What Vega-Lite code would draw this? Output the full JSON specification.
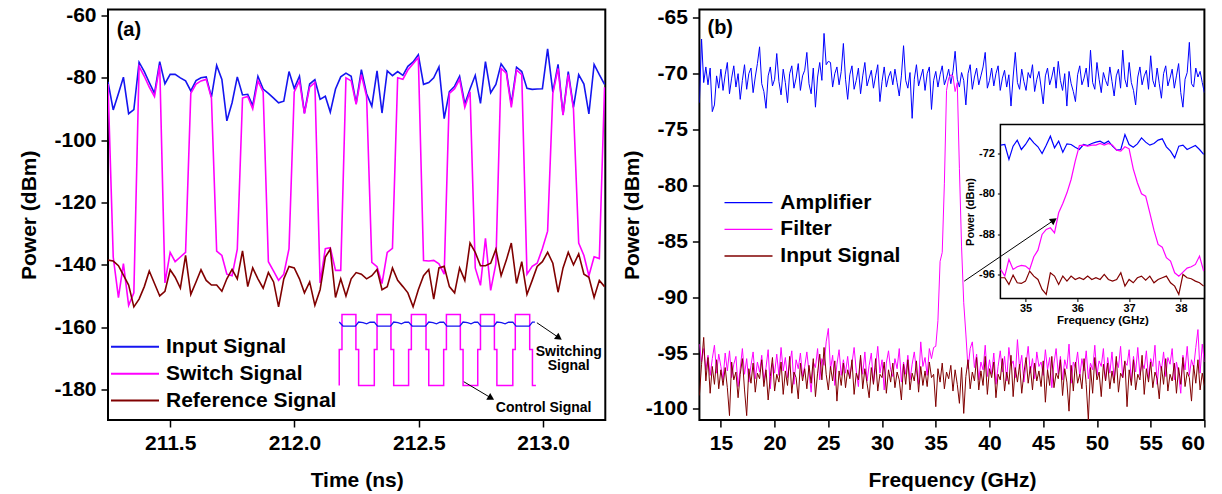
{
"$schema":"https://vega.github.io/schema/vega-lite/v6.json",
"background":"white",
"padding":{"left":17,"top":2.5,"right":5,"bottom":5},
"bounds":"flush",
"spacing":93.4,
"config":{
 "font":"Liberation Sans",
 "view":{"stroke":"black","strokeWidth":2},
 "axis":{"grid":false,"domain":false,"labelFont":"Liberation Sans","labelFontWeight":"bold","labelFontSize":21,"labelColor":"black","titleFont":"Liberation Sans","titleFontWeight":"bold","titleFontSize":21,"titleColor":"black","tickColor":"black","tickWidth":1.5,"tickSize":7,"labelPadding":5},
 "legend":{"labelFont":"Liberation Sans","labelFontWeight":"bold","labelFontSize":21,"labelColor":"black","padding":0,"labelLimit":400}
},
"resolve":{"scale":{"color":"independent"},"legend":{"color":"independent"}},
"hconcat":[
{
 "width":497.3,"height":410.5,
 "encoding":{
  "x":{"field":"t","type":"quantitative","title":"Time (ns)","scale":{"domain":[211.25,213.25],"nice":false,"zero":false},"axis":{"orient":"bottom","values":[211.5,212,212.5,213],"format":".1f","titlePadding":16}},
  "y":{"field":"y","type":"quantitative","title":"Power (dBm)","scale":{"domain":[-189.8,-58.08],"nice":false,"zero":false},"axis":{"orient":"left","values":[-180,-160,-140,-120,-100,-80,-60],"labelExpr":"replace(datum.label,'−','-')","titlePadding":14}}
 },
 "layer":[
  {
   "data":{"values":[
{"t":211.250,"in":-81.3,"sw":-82,"rf":-138.5},
{"t":211.271,"in":-90.3,"sw":-137.5,"rf":-138.8},
{"t":211.292,"in":-85,"sw":-150.5,"rf":-140.3},
{"t":211.312,"in":-79.8,"sw":-139.6,"rf":-143.3},
{"t":211.333,"in":-91.5,"sw":-153,"rf":-146.5},
{"t":211.354,"in":-90.2,"sw":-149,"rf":-153.5},
{"t":211.375,"in":-75,"sw":-76.3,"rf":-151},
{"t":211.396,"in":-78,"sw":-79.5,"rf":-147},
{"t":211.416,"in":-81.5,"sw":-83,"rf":-142},
{"t":211.437,"in":-85,"sw":-86,"rf":-146},
{"t":211.458,"in":-74.8,"sw":-76,"rf":-150},
{"t":211.479,"in":-81.9,"sw":-145.8,"rf":-148.5},
{"t":211.500,"in":-78.9,"sw":-136,"rf":-141.6},
{"t":211.520,"in":-78.9,"sw":-139,"rf":-144},
{"t":211.541,"in":-80,"sw":-137.5,"rf":-147.5},
{"t":211.562,"in":-81,"sw":-136,"rf":-137},
{"t":211.583,"in":-84.2,"sw":-85,"rf":-149.5},
{"t":211.604,"in":-80.9,"sw":-82,"rf":-145.5},
{"t":211.624,"in":-80,"sw":-81,"rf":-141.6},
{"t":211.645,"in":-79.7,"sw":-80.5,"rf":-145},
{"t":211.666,"in":-86.2,"sw":-86.5,"rf":-146.5},
{"t":211.687,"in":-76,"sw":-135.6,"rf":-146.5},
{"t":211.708,"in":-80.5,"sw":-137,"rf":-148.5},
{"t":211.728,"in":-93.8,"sw":-143,"rf":-144.5},
{"t":211.749,"in":-88,"sw":-143.5,"rf":-141.5},
{"t":211.770,"in":-79.7,"sw":-135,"rf":-144.5},
{"t":211.791,"in":-85.5,"sw":-86.5,"rf":-135.5},
{"t":211.812,"in":-85.3,"sw":-86,"rf":-147},
{"t":211.832,"in":-88.9,"sw":-90,"rf":-141},
{"t":211.853,"in":-79.5,"sw":-81,"rf":-144.5},
{"t":211.874,"in":-83.6,"sw":-84.5,"rf":-147.5},
{"t":211.895,"in":-85,"sw":-139,"rf":-142.5},
{"t":211.916,"in":-86.5,"sw":-142,"rf":-145.5},
{"t":211.936,"in":-88,"sw":-145,"rf":-153.5},
{"t":211.957,"in":-87.5,"sw":-143,"rf":-144.5},
{"t":211.978,"in":-78,"sw":-134.8,"rf":-140.5},
{"t":211.999,"in":-83.4,"sw":-84.5,"rf":-141},
{"t":212.020,"in":-79.5,"sw":-81,"rf":-144.5},
{"t":212.040,"in":-91.3,"sw":-91.5,"rf":-149},
{"t":212.061,"in":-82,"sw":-83,"rf":-145.5},
{"t":212.082,"in":-80.6,"sw":-81.5,"rf":-153},
{"t":212.103,"in":-86.9,"sw":-145.8,"rf":-148},
{"t":212.124,"in":-85.9,"sw":-134.8,"rf":-137.5},
{"t":212.144,"in":-91,"sw":-134.5,"rf":-135},
{"t":212.165,"in":-83.6,"sw":-141.8,"rf":-150.5},
{"t":212.186,"in":-79.7,"sw":-141.8,"rf":-144.5},
{"t":212.207,"in":-78.5,"sw":-80,"rf":-150},
{"t":212.228,"in":-79.5,"sw":-81,"rf":-144.5},
{"t":212.248,"in":-88.2,"sw":-88.5,"rf":-142.5},
{"t":212.269,"in":-77.4,"sw":-79,"rf":-143},
{"t":212.290,"in":-85.1,"sw":-86,"rf":-144.5},
{"t":212.311,"in":-89.1,"sw":-139.2,"rf":-143.5},
{"t":212.332,"in":-77.8,"sw":-140.6,"rf":-141.5},
{"t":212.352,"in":-91.3,"sw":-146,"rf":-148},
{"t":212.373,"in":-77.8,"sw":-136,"rf":-147},
{"t":212.394,"in":-79.3,"sw":-134.7,"rf":-141},
{"t":212.415,"in":-78,"sw":-80,"rf":-145},
{"t":212.436,"in":-79.2,"sw":-80.5,"rf":-147},
{"t":212.456,"in":-76.3,"sw":-77.5,"rf":-149},
{"t":212.477,"in":-74.9,"sw":-75.5,"rf":-153.5},
{"t":212.498,"in":-72.6,"sw":-73.5,"rf":-148},
{"t":212.519,"in":-82.1,"sw":-138.6,"rf":-143.5},
{"t":212.540,"in":-81.5,"sw":-138.8,"rf":-141.5},
{"t":212.560,"in":-80,"sw":-138.6,"rf":-151},
{"t":212.581,"in":-76.5,"sw":-139.7,"rf":-141},
{"t":212.602,"in":-93.1,"sw":-143,"rf":-140.5},
{"t":212.623,"in":-84.4,"sw":-85,"rf":-147},
{"t":212.644,"in":-82.7,"sw":-83.5,"rf":-149},
{"t":212.664,"in":-79.5,"sw":-80.5,"rf":-141},
{"t":212.685,"in":-88.4,"sw":-89.5,"rf":-145},
{"t":212.706,"in":-83.6,"sw":-84.5,"rf":-133},
{"t":212.727,"in":-79.2,"sw":-141,"rf":-136},
{"t":212.748,"in":-88.2,"sw":-146.6,"rf":-140.3},
{"t":212.768,"in":-74.8,"sw":-131.5,"rf":-140.3},
{"t":212.789,"in":-84.8,"sw":-148.2,"rf":-139.5},
{"t":212.810,"in":-82.1,"sw":-139.6,"rf":-135},
{"t":212.831,"in":-75.5,"sw":-77,"rf":-143.5},
{"t":212.852,"in":-77.9,"sw":-78.5,"rf":-138.5},
{"t":212.872,"in":-88.4,"sw":-89.5,"rf":-133},
{"t":212.893,"in":-76.6,"sw":-77.5,"rf":-146},
{"t":212.914,"in":-78,"sw":-79,"rf":-139},
{"t":212.935,"in":-83.4,"sw":-143,"rf":-149.5},
{"t":212.956,"in":-83.7,"sw":-140.5,"rf":-145},
{"t":212.976,"in":-83.6,"sw":-139.5,"rf":-140.5},
{"t":212.997,"in":-83.5,"sw":-134.8,"rf":-139},
{"t":213.018,"in":-70.7,"sw":-129.2,"rf":-136},
{"t":213.039,"in":-84.6,"sw":-85,"rf":-139.5},
{"t":213.060,"in":-75.7,"sw":-77,"rf":-148.8},
{"t":213.080,"in":-91.8,"sw":-92,"rf":-141},
{"t":213.101,"in":-78,"sw":-79,"rf":-136},
{"t":213.122,"in":-89.5,"sw":-90,"rf":-140},
{"t":213.143,"in":-79,"sw":-133,"rf":-136.5},
{"t":213.164,"in":-82,"sw":-137,"rf":-143},
{"t":213.184,"in":-91.6,"sw":-143.5,"rf":-144},
{"t":213.205,"in":-75.7,"sw":-137.4,"rf":-150.5},
{"t":213.226,"in":-79,"sw":-138,"rf":-145},
{"t":213.247,"in":-82.1,"sw":-83,"rf":-147}
   ]},
   "transform":[{"fold":["in","sw","rf"],"as":["s","y"]}],
   "mark":{"type":"line","strokeWidth":1.6,"clip":true},
   "encoding":{
    "color":{"field":"s","type":"nominal","scale":{"domain":["in","sw","rf"],"range":["#1515f0","#ff00ff","#800000"]},
     "legend":{"orient":"none","legendX":16.5,"legendY":326.8,"title":null,"symbolType":"M-4,0H4","symbolSize":144,"symbolStrokeWidth":2,"labelOffset":20.5,"rowPadding":4.9,"labelExpr":"datum.label == 'in' ? 'Input Signal' : datum.label == 'sw' ? 'Switch Signal' : 'Reference Signal'"}}
   }
  },
  {
   "data":{"values":[
{"i":0,"t":212.180,"y":-178.71},{"i":1,"t":212.180,"y":-167.16},{"i":2,"t":212.191,"y":-167.16},{"i":3,"t":212.191,"y":-155.93},
{"i":4,"t":212.247,"y":-155.93},{"i":5,"t":212.247,"y":-167.16},{"i":6,"t":212.258,"y":-167.16},{"i":7,"t":212.258,"y":-178.71},
{"i":8,"t":212.321,"y":-178.71},{"i":9,"t":212.321,"y":-167.16},{"i":10,"t":212.332,"y":-167.16},{"i":11,"t":212.332,"y":-155.93},
{"i":12,"t":212.388,"y":-155.93},{"i":13,"t":212.388,"y":-167.16},{"i":14,"t":212.399,"y":-167.16},{"i":15,"t":212.399,"y":-178.71},
{"i":16,"t":212.459,"y":-178.71},{"i":17,"t":212.459,"y":-167.16},{"i":18,"t":212.470,"y":-167.16},{"i":19,"t":212.470,"y":-155.93},
{"i":20,"t":212.529,"y":-155.93},{"i":21,"t":212.529,"y":-167.16},{"i":22,"t":212.540,"y":-167.16},{"i":23,"t":212.540,"y":-178.71},
{"i":24,"t":212.600,"y":-178.71},{"i":25,"t":212.600,"y":-167.16},{"i":26,"t":212.611,"y":-167.16},{"i":27,"t":212.611,"y":-155.93},
{"i":28,"t":212.667,"y":-155.93},{"i":29,"t":212.667,"y":-167.16},{"i":30,"t":212.678,"y":-167.16},{"i":31,"t":212.678,"y":-178.71},
{"i":32,"t":212.737,"y":-178.71},{"i":33,"t":212.737,"y":-167.16},{"i":34,"t":212.748,"y":-167.16},{"i":35,"t":212.748,"y":-155.93},
{"i":36,"t":212.804,"y":-155.93},{"i":37,"t":212.804,"y":-167.16},{"i":38,"t":212.814,"y":-167.16},{"i":39,"t":212.814,"y":-178.71},
{"i":40,"t":212.878,"y":-178.71},{"i":41,"t":212.878,"y":-167.16},{"i":42,"t":212.888,"y":-167.16},{"i":43,"t":212.888,"y":-155.93},
{"i":44,"t":212.946,"y":-155.93},{"i":45,"t":212.946,"y":-167.16},{"i":46,"t":212.957,"y":-167.16},{"i":47,"t":212.957,"y":-178.71},
{"i":48,"t":212.971,"y":-178.71}
   ]},
   "mark":{"type":"line","color":"#ff00ff","strokeWidth":1.5},
   "encoding":{"order":{"field":"i","type":"quantitative"}}
  },
  {
   "data":{"values":[
{"t":212.180,"y":-158.37},{"t":212.195,"y":-159.65},{"t":212.245,"y":-159.65},{"t":212.258,"y":-158.37},{"t":212.276,"y":-158.53},{"t":212.290,"y":-158.92},{"t":212.304,"y":-158.43},{"t":212.321,"y":-158.37},
{"t":212.334,"y":-159.65},{"t":212.386,"y":-159.65},{"t":212.399,"y":-158.37},{"t":212.416,"y":-158.53},{"t":212.430,"y":-158.92},{"t":212.444,"y":-158.43},{"t":212.459,"y":-158.37},
{"t":212.473,"y":-159.65},{"t":212.527,"y":-159.65},{"t":212.540,"y":-158.37},{"t":212.557,"y":-158.53},{"t":212.571,"y":-158.92},{"t":212.585,"y":-158.43},{"t":212.600,"y":-158.37},
{"t":212.613,"y":-159.65},{"t":212.665,"y":-159.65},{"t":212.678,"y":-158.37},{"t":212.696,"y":-158.53},{"t":212.710,"y":-158.92},{"t":212.724,"y":-158.43},{"t":212.737,"y":-158.37},
{"t":212.750,"y":-159.65},{"t":212.802,"y":-159.65},{"t":212.814,"y":-158.37},{"t":212.833,"y":-158.53},{"t":212.847,"y":-158.92},{"t":212.861,"y":-158.43},{"t":212.878,"y":-158.37},
{"t":212.891,"y":-159.65},{"t":212.944,"y":-159.65},{"t":212.957,"y":-158.37},{"t":212.967,"y":-158.37}
   ]},
   "mark":{"type":"line","color":"#1515f0","strokeWidth":1.3}
  },
  {
   "data":{"values":[{"t":212.975,"y":-158.59,"t2":213.060,"y2":-163.21},{"t":212.681,"y":-177.52,"t2":212.787,"y2":-182.56}]},
   "mark":{"type":"rule","color":"black","strokeWidth":1},
   "encoding":{"x2":{"field":"t2"},"y2":{"field":"y2"}}
  },
  {
   "data":{"values":[{"t":213.060,"y":-163.21}]},
   "mark":{"type":"point","shape":"triangle","filled":true,"color":"black","opacity":1,"size":60,"angle":124.5}
  },
  {
   "data":{"values":[{"t":212.787,"y":-182.56}]},
   "mark":{"type":"point","shape":"triangle","filled":true,"color":"black","opacity":1,"size":60,"angle":120.5}
  },
  {
   "data":{"values":[{"t":211.334,"y":-64.5,"label":"(a)"}]},
   "mark":{"type":"text","font":"Liberation Sans","fontWeight":"bold","fontSize":20,"color":"black","align":"center","baseline":"middle"},
   "encoding":{"text":{"field":"label"}}
  },
  {
   "data":{"values":[{"t":213.103,"y":-167.9,"label":"Switching"},{"t":213.103,"y":-172.48,"label":"Signal"},{"t":213.002,"y":-185.86,"label":"Control Signal"}]},
   "mark":{"type":"text","font":"Liberation Sans","fontWeight":"bold","fontSize":14,"color":"black","align":"center","baseline":"middle"},
   "encoding":{"text":{"field":"label"}}
  }
 ]
},
{
 "width":505,"height":410.6,
 "resolve":{"scale":{"x":"independent","y":"independent"}},
 "layer":[
  {
   "encoding":{
    "x":{"field":"f","type":"quantitative","title":"Frequency (GHz)","scale":{"domain":[13,60],"nice":false,"zero":false},"axis":{"orient":"bottom","values":[15,20,25,30,35,40,45,50,55,60],"titlePadding":16}},
    "y":{"field":"y","type":"quantitative","title":"Power (dBm)","scale":{"domain":[-101.0,-64.26],"nice":false,"zero":false},"axis":{"orient":"left","values":[-100,-95,-90,-85,-80,-75,-70,-65],"labelExpr":"replace(datum.label,'−','-')","titlePadding":3}}
   },
   "layer":[
    {
     "data":{"values":[
{"f":13.0,"A":-72.6,"F":-94.2,"I":-98.8},{"f":13.2,"A":-66.9,"F":-95.8,"I":-96.0},{"f":13.4,"A":-70.8,"F":-94.6,"I":-93.6},{"f":13.6,"A":-69.4,"F":-96.5,"I":-97.5},{"f":13.8,"A":-71.0,"F":-95.2,"I":-95.4},
{"f":14.0,"A":-69.5,"F":-97.0,"I":-98.6},{"f":14.2,"A":-73.4,"F":-95.5,"I":-96.2},{"f":14.4,"A":-72.8,"F":-94.3,"I":-97.8},{"f":14.6,"A":-70.2,"F":-96.8,"I":-95.6},{"f":14.8,"A":-71.3,"F":-95.1,"I":-98.2},
{"f":15.0,"A":-69.6,"F":-96.2,"I":-96.5},{"f":15.2,"A":-71.5,"F":-97.4,"I":-97.9},{"f":15.4,"A":-70.1,"F":-95.0,"I":-96.3},{"f":15.6,"A":-69.0,"F":-96.6,"I":-98.1},{"f":15.8,"A":-71.8,"F":-94.8,"I":-100.6},
{"f":16.0,"A":-70.4,"F":-97.2,"I":-95.8},{"f":16.2,"A":-69.3,"F":-96.0,"I":-97.4},{"f":16.4,"A":-71.2,"F":-95.3,"I":-96.7},{"f":16.6,"A":-70.0,"F":-98.0,"I":-99.0},{"f":16.8,"A":-72.3,"F":-96.4,"I":-96.9},
{"f":17.0,"A":-70.6,"F":-94.6,"I":-95.5},{"f":17.2,"A":-69.2,"F":-96.9,"I":-98.3},{"f":17.4,"A":-71.4,"F":-95.5,"I":-100.6},{"f":17.6,"A":-70.0,"F":-97.6,"I":-96.4},{"f":17.8,"A":-69.5,"F":-96.1,"I":-97.7},
{"f":18.0,"A":-71.7,"F":-94.9,"I":-95.9},{"f":18.2,"A":-70.3,"F":-97.3,"I":-98.5},{"f":18.4,"A":-69.1,"F":-95.8,"I":-96.8},{"f":18.6,"A":-67.6,"F":-96.7,"I":-97.3},{"f":18.8,"A":-70.9,"F":-95.2,"I":-95.6},
{"f":19.0,"A":-71.6,"F":-97.5,"I":-98.0},{"f":19.2,"A":-73.1,"F":-96.3,"I":-96.5},{"f":19.4,"A":-70.2,"F":-94.7,"I":-99.2},{"f":19.6,"A":-69.4,"F":-98.2,"I":-97.1},{"f":19.8,"A":-71.1,"F":-95.9,"I":-95.4},
{"f":20.0,"A":-70.5,"F":-96.8,"I":-98.4},{"f":20.2,"A":-68.2,"F":-95.1,"I":-96.9},{"f":20.4,"A":-70.7,"F":-97.0,"I":-97.6},{"f":20.6,"A":-71.9,"F":-94.5,"I":-95.8},{"f":20.8,"A":-69.6,"F":-96.6,"I":-98.7},
{"f":21.0,"A":-70.8,"F":-95.4,"I":-96.6},{"f":21.2,"A":-72.6,"F":-97.2,"I":-97.9},{"f":21.4,"A":-70.0,"F":-96.0,"I":-95.3},{"f":21.6,"A":-69.3,"F":-94.8,"I":-98.6},{"f":21.8,"A":-71.3,"F":-97.8,"I":-96.7},
{"f":22.0,"A":-70.4,"F":-95.6,"I":-97.2},{"f":22.2,"A":-69.1,"F":-96.4,"I":-99.1},{"f":22.4,"A":-71.5,"F":-95.0,"I":-95.9},{"f":22.6,"A":-70.2,"F":-97.1,"I":-97.5},{"f":22.8,"A":-69.7,"F":-96.2,"I":-96.4},
{"f":23.0,"A":-68.1,"F":-94.9,"I":-98.2},{"f":23.2,"A":-70.9,"F":-96.7,"I":-96.1},{"f":23.4,"A":-71.8,"F":-98.5,"I":-97.7},{"f":23.6,"A":-69.5,"F":-95.8,"I":-95.5},{"f":23.8,"A":-73.0,"F":-96.3,"I":-98.9},
{"f":24.0,"A":-70.3,"F":-94.6,"I":-96.8},{"f":24.2,"A":-69.0,"F":-97.4,"I":-95.1},{"f":24.4,"A":-70.6,"F":-95.5,"I":-97.4},{"f":24.6,"A":-66.4,"F":-96.1,"I":-94.5},{"f":24.8,"A":-69.2,"F":-94.0,"I":-96.9},
{"f":25.0,"A":-68.9,"F":-92.8,"I":-98.3},{"f":25.2,"A":-69.0,"F":-96.5,"I":-96.2},{"f":25.4,"A":-71.2,"F":-95.2,"I":-97.5},{"f":25.6,"A":-70.0,"F":-97.9,"I":-95.7},{"f":25.8,"A":-69.4,"F":-96.0,"I":-99.3},
{"f":26.0,"A":-71.0,"F":-94.7,"I":-96.6},{"f":26.2,"A":-69.8,"F":-97.0,"I":-97.9},{"f":26.4,"A":-67.3,"F":-95.6,"I":-95.9},{"f":26.6,"A":-70.5,"F":-96.8,"I":-98.1},{"f":26.8,"A":-72.3,"F":-95.3,"I":-96.5},
{"f":27.0,"A":-70.1,"F":-97.2,"I":-97.3},{"f":27.2,"A":-69.3,"F":-95.9,"I":-95.6},{"f":27.4,"A":-71.4,"F":-94.5,"I":-98.7},{"f":27.6,"A":-70.6,"F":-96.6,"I":-96.8},{"f":27.8,"A":-69.5,"F":-98.0,"I":-97.4},
{"f":28.0,"A":-71.8,"F":-95.4,"I":-95.2},{"f":28.2,"A":-70.2,"F":-96.9,"I":-98.2},{"f":28.4,"A":-69.0,"F":-94.9,"I":-96.4},{"f":28.6,"A":-71.1,"F":-97.5,"I":-97.7},{"f":28.8,"A":-70.4,"F":-96.1,"I":-99.0},
{"f":29.0,"A":-69.7,"F":-95.0,"I":-96.3},{"f":29.2,"A":-71.3,"F":-97.7,"I":-97.8},{"f":29.4,"A":-70.2,"F":-96.3,"I":-95.5},{"f":29.6,"A":-69.2,"F":-94.4,"I":-98.4},{"f":29.8,"A":-72.5,"F":-96.8,"I":-96.9},
{"f":30.0,"A":-70.7,"F":-95.6,"I":-97.2},{"f":30.2,"A":-69.4,"F":-98.3,"I":-95.8},{"f":30.4,"A":-71.2,"F":-95.9,"I":-98.6},{"f":30.6,"A":-70.3,"F":-94.8,"I":-96.5},{"f":30.8,"A":-69.8,"F":-96.5,"I":-97.6},
{"f":31.0,"A":-71.0,"F":-97.1,"I":-95.9},{"f":31.2,"A":-69.6,"F":-95.5,"I":-98.1},{"f":31.4,"A":-70.8,"F":-96.4,"I":-96.7},{"f":31.6,"A":-72.0,"F":-94.6,"I":-97.4},{"f":31.8,"A":-70.2,"F":-97.6,"I":-99.2},
{"f":32.0,"A":-67.5,"F":-95.8,"I":-96.0},{"f":32.2,"A":-70.6,"F":-96.9,"I":-97.8},{"f":32.4,"A":-71.3,"F":-95.2,"I":-95.6},{"f":32.6,"A":-69.9,"F":-97.4,"I":-98.3},{"f":32.8,"A":-74.0,"F":-96.0,"I":-96.8},
{"f":33.0,"A":-70.5,"F":-94.9,"I":-97.5},{"f":33.2,"A":-69.2,"F":-96.6,"I":-95.7},{"f":33.4,"A":-71.1,"F":-97.8,"I":-98.5},{"f":33.6,"A":-70.3,"F":-94.0,"I":-96.2},{"f":33.8,"A":-69.6,"F":-96.2,"I":-97.9},
{"f":34.0,"A":-71.5,"F":-95.4,"I":-96.6},{"f":34.2,"A":-70.0,"F":-97.0,"I":-98.0},{"f":34.4,"A":-69.4,"F":-94.6,"I":-95.8},{"f":34.6,"A":-73.2,"F":-95.5,"I":-97.2},{"f":34.8,"A":-70.6,"F":-94.5,"I":-96.9},
{"f":35.0,"A":-69.8,"F":-94.4,"I":-99.8},{"f":35.2,"A":-71.2,"F":-92.1,"I":-96.4},{"f":35.4,"A":-70.1,"F":-86.8,"I":-97.6},{"f":35.6,"A":-69.3,"F":-86.0,"I":-95.9},{"f":35.8,"A":-71.0,"F":-79.8,"I":-98.2},
{"f":36.0,"A":-70.4,"F":-71.5,"I":-96.7},{"f":36.2,"A":-69.6,"F":-70.4,"I":-97.3},{"f":36.4,"A":-70.9,"F":-70.1,"I":-96.1},{"f":36.6,"A":-69.8,"F":-70.2,"I":-98.4},{"f":36.8,"A":-68.0,"F":-71.6,"I":-96.5},
{"f":37.0,"A":-70.5,"F":-70.8,"I":-97.8},{"f":37.2,"A":-71.2,"F":-78.5,"I":-99.5},{"f":37.4,"A":-69.9,"F":-85.5,"I":-96.3},{"f":37.6,"A":-70.6,"F":-90.5,"I":-100.4},{"f":37.8,"A":-72.8,"F":-93.3,"I":-97.1},
{"f":38.0,"A":-70.0,"F":-96.4,"I":-95.6},{"f":38.2,"A":-69.2,"F":-94.6,"I":-98.2},{"f":38.4,"A":-71.4,"F":-94.0,"I":-96.7},{"f":38.6,"A":-70.3,"F":-96.3,"I":-97.5},{"f":38.8,"A":-69.5,"F":-95.1,"I":-95.4},
{"f":39.0,"A":-71.0,"F":-97.4,"I":-98.3},{"f":39.2,"A":-70.2,"F":-95.8,"I":-96.6},{"f":39.4,"A":-69.4,"F":-96.5,"I":-97.9},{"f":39.6,"A":-68.1,"F":-94.3,"I":-95.3},{"f":39.8,"A":-71.3,"F":-97.1,"I":-98.7},
{"f":40.0,"A":-70.6,"F":-95.6,"I":-96.4},{"f":40.2,"A":-69.5,"F":-96.9,"I":-97.2},{"f":40.4,"A":-71.1,"F":-95.0,"I":-95.8},{"f":40.6,"A":-70.0,"F":-97.8,"I":-99.0},{"f":40.8,"A":-69.3,"F":-96.2,"I":-96.9},
{"f":41.0,"A":-71.5,"F":-94.8,"I":-97.4},{"f":41.2,"A":-70.4,"F":-96.7,"I":-95.5},{"f":41.4,"A":-69.7,"F":-95.3,"I":-98.4},{"f":41.6,"A":-71.2,"F":-97.5,"I":-96.7},{"f":41.8,"A":-70.1,"F":-94.5,"I":-97.8},
{"f":42.0,"A":-72.9,"F":-96.1,"I":-95.2},{"f":42.2,"A":-70.3,"F":-95.7,"I":-98.9},{"f":42.4,"A":-68.1,"F":-97.2,"I":-96.3},{"f":42.6,"A":-70.8,"F":-93.8,"I":-97.6},{"f":42.8,"A":-71.4,"F":-96.4,"I":-96.0},
{"f":43.0,"A":-69.6,"F":-95.2,"I":-98.6},{"f":43.2,"A":-70.7,"F":-97.6,"I":-96.8},{"f":43.4,"A":-71.5,"F":-96.0,"I":-95.4},{"f":43.6,"A":-69.9,"F":-94.4,"I":-97.7},{"f":43.8,"A":-70.4,"F":-96.8,"I":-96.2},
{"f":44.0,"A":-69.2,"F":-95.5,"I":-98.3},{"f":44.2,"A":-71.6,"F":-97.3,"I":-95.9},{"f":44.4,"A":-70.5,"F":-94.9,"I":-97.5},{"f":44.6,"A":-69.8,"F":-96.2,"I":-96.6},{"f":44.8,"A":-71.2,"F":-95.8,"I":-98.0},
{"f":45.0,"A":-72.7,"F":-97.0,"I":-95.7},{"f":45.2,"A":-70.2,"F":-94.7,"I":-99.4},{"f":45.4,"A":-69.5,"F":-96.5,"I":-96.5},{"f":45.6,"A":-71.0,"F":-95.4,"I":-97.9},{"f":45.8,"A":-70.3,"F":-98.1,"I":-95.3},
{"f":46.0,"A":-69.4,"F":-95.9,"I":-98.1},{"f":46.2,"A":-71.3,"F":-94.6,"I":-96.8},{"f":46.4,"A":-68.9,"F":-96.9,"I":-97.3},{"f":46.6,"A":-70.6,"F":-95.3,"I":-95.6},{"f":46.8,"A":-71.5,"F":-97.4,"I":-98.8},
{"f":47.0,"A":-70.0,"F":-95.6,"I":-96.4},{"f":47.2,"A":-72.9,"F":-96.4,"I":-97.6},{"f":47.4,"A":-69.8,"F":-94.2,"I":-100.2},{"f":47.6,"A":-70.9,"F":-97.7,"I":-96.1},{"f":47.8,"A":-71.6,"F":-95.8,"I":-98.4},
{"f":48.0,"A":-72.5,"F":-96.3,"I":-95.8},{"f":48.2,"A":-70.1,"F":-94.9,"I":-97.7},{"f":48.4,"A":-69.3,"F":-97.1,"I":-96.9},{"f":48.6,"A":-71.0,"F":-95.5,"I":-98.2},{"f":48.8,"A":-70.4,"F":-96.6,"I":-95.5},
{"f":49.0,"A":-69.5,"F":-94.8,"I":-97.8},{"f":49.2,"A":-71.2,"F":-97.3,"I":-101.0},{"f":49.4,"A":-67.9,"F":-95.9,"I":-96.3},{"f":49.6,"A":-70.8,"F":-96.5,"I":-98.6},{"f":49.8,"A":-71.4,"F":-94.3,"I":-95.4},
{"f":50.0,"A":-69.0,"F":-97.0,"I":-97.4},{"f":50.2,"A":-70.5,"F":-95.7,"I":-96.7},{"f":50.4,"A":-71.7,"F":-96.2,"I":-98.9},{"f":50.6,"A":-69.9,"F":-94.6,"I":-96.0},{"f":50.8,"A":-70.6,"F":-97.5,"I":-97.5},
{"f":51.0,"A":-71.1,"F":-95.4,"I":-95.9},{"f":51.2,"A":-69.4,"F":-96.8,"I":-98.2},{"f":51.4,"A":-70.7,"F":-94.9,"I":-96.6},{"f":51.6,"A":-72.0,"F":-97.4,"I":-97.7},{"f":51.8,"A":-70.2,"F":-95.6,"I":-95.3},
{"f":52.0,"A":-69.6,"F":-96.3,"I":-98.5},{"f":52.2,"A":-71.3,"F":-94.4,"I":-96.8},{"f":52.4,"A":-67.9,"F":-97.2,"I":-97.2},{"f":52.6,"A":-70.5,"F":-95.8,"I":-95.7},{"f":52.8,"A":-71.2,"F":-96.1,"I":-99.8},
{"f":53.0,"A":-69.0,"F":-94.7,"I":-96.5},{"f":53.2,"A":-70.8,"F":-97.6,"I":-97.9},{"f":53.4,"A":-71.5,"F":-95.3,"I":-95.6},{"f":53.6,"A":-72.8,"F":-96.7,"I":-98.3},{"f":53.8,"A":-70.3,"F":-94.5,"I":-96.9},
{"f":54.0,"A":-69.4,"F":-97.0,"I":-97.4},{"f":54.2,"A":-71.0,"F":-95.9,"I":-95.2},{"f":54.4,"A":-70.2,"F":-96.4,"I":-98.7},{"f":54.6,"A":-69.7,"F":-94.8,"I":-96.4},{"f":54.8,"A":-71.4,"F":-97.3,"I":-97.6},
{"f":55.0,"A":-68.4,"F":-95.5,"I":-95.8},{"f":55.2,"A":-70.6,"F":-96.2,"I":-98.1},{"f":55.4,"A":-71.2,"F":-94.3,"I":-96.7},{"f":55.6,"A":-69.5,"F":-97.8,"I":-97.3},{"f":55.8,"A":-70.9,"F":-95.7,"I":-99.1},
{"f":56.0,"A":-72.2,"F":-96.6,"I":-96.2},{"f":56.2,"A":-70.0,"F":-94.9,"I":-97.8},{"f":56.4,"A":-69.3,"F":-97.1,"I":-95.5},{"f":56.6,"A":-71.1,"F":-95.4,"I":-98.4},{"f":56.8,"A":-70.4,"F":-96.0,"I":-96.9},
{"f":57.0,"A":-69.6,"F":-94.6,"I":-97.5},{"f":57.2,"A":-71.3,"F":-97.4,"I":-95.9},{"f":57.4,"A":-70.2,"F":-95.8,"I":-98.6},{"f":57.6,"A":-69.1,"F":-96.9,"I":-96.3},{"f":57.8,"A":-71.7,"F":-98.6,"I":-97.8},
{"f":58.0,"A":-73.0,"F":-95.2,"I":-95.4},{"f":58.2,"A":-70.5,"F":-96.5,"I":-98.0},{"f":58.4,"A":-69.9,"F":-94.4,"I":-96.7},{"f":58.6,"A":-67.2,"F":-97.0,"I":-97.2},{"f":58.8,"A":-70.9,"F":-95.6,"I":-99.3},
{"f":59.0,"A":-71.2,"F":-96.3,"I":-96.1},{"f":59.2,"A":-69.5,"F":-94.5,"I":-97.7},{"f":59.4,"A":-70.3,"F":-92.9,"I":-95.6},{"f":59.6,"A":-69.8,"F":-96.8,"I":-98.3},{"f":59.8,"A":-70.8,"F":-94.2,"I":-96.8},
{"f":60.0,"A":-71.7,"F":-95.8,"I":-97.9}
     ]},
     "transform":[{"fold":["A","F","I"],"as":["s","y"]}],
     "mark":{"type":"line","strokeWidth":1,"clip":true},
     "encoding":{
      "color":{"field":"s","type":"nominal","scale":{"domain":["A","F","I"],"range":["#0000ff","#ff00ff","#800000"]},
       "legend":{"orient":"none","legendX":38.6,"legendY":182.6,"title":null,"symbolType":"M-4,0H4","symbolSize":144,"symbolStrokeWidth":1.3,"labelOffset":21.3,"rowPadding":4.7,"labelExpr":"datum.label == 'A' ? 'Amplifier' : datum.label == 'F' ? 'Filter' : 'Input Signal'"}}
     }
    },
    {
     "data":{"values":[{"f":14.94,"y":-65.9,"label":"(b)"}]},
     "mark":{"type":"text","font":"Liberation Sans","fontWeight":"bold","fontSize":20,"color":"black","align":"center","baseline":"middle"},
     "encoding":{"text":{"field":"label"}}
    }
   ]
  },
  {
   "encoding":{
    "x":{"field":"f","type":"quantitative","title":"Frequency (GHz)","scale":{"domain":[34.515,38.454],"range":[301,505],"nice":false,"zero":false},"axis":{"orient":"bottom","offset":-121.6,"values":[35,36,37,38],"labelFontSize":11,"titleFontSize":11.5,"tickSize":3,"tickWidth":1,"labelPadding":1,"titlePadding":1}},
    "y":{"field":"y","type":"quantitative","title":"Power (dBm)","scale":{"domain":[-100.87,-66.15],"range":[289,115],"nice":false,"zero":false},"axis":{"orient":"left","offset":-301,"values":[-96,-88,-80,-72],"labelExpr":"replace(datum.label,'−','-')","labelFontSize":11,"titleFontSize":11,"tickSize":3,"tickWidth":1,"labelPadding":3,"titlePadding":3}}
   },
   "layer":[
    {
     "data":{"values":[{"f":34.515,"f2":38.454,"y":-100.87,"y2":-66.15}]},
     "mark":{"type":"rect","fill":"white","stroke":"black","strokeWidth":1.5},
     "encoding":{"x2":{"field":"f2"},"y2":{"field":"y2"}}
    },
    {
     "data":{"values":[
{"f":34.52,"A":-70.27,"F":-95.07,"I":-96.73},{"f":34.60,"A":-70.14,"F":-96.40,"I":-96.73},{"f":34.68,"A":-73.13,"F":-93.08,"I":-98.06},{"f":34.76,"A":-70.47,"F":-95.07,"I":-96.20},{"f":34.84,"A":-69.27,"F":-94.54,"I":-97.73},
{"f":34.92,"A":-71.14,"F":-94.27,"I":-97.86},{"f":35.00,"A":-70.14,"F":-94.41,"I":-97.40},{"f":35.08,"A":-68.81,"F":-95.07,"I":-95.40},{"f":35.16,"A":-69.81,"F":-92.55,"I":-96.40},{"f":35.24,"A":-70.60,"F":-91.22,"I":-97.07},
{"f":35.32,"A":-71.93,"F":-88.09,"I":-99.06},{"f":35.40,"A":-70.27,"F":-87.09,"I":-100.06},{"f":35.48,"A":-68.48,"F":-86.76,"I":-95.74},{"f":35.56,"A":-70.80,"F":-87.76,"I":-96.40},{"f":35.64,"A":-69.47,"F":-83.77,"I":-98.06},
{"f":35.72,"A":-71.67,"F":-81.91,"I":-96.40},{"f":35.80,"A":-70.01,"F":-79.78,"I":-97.40},{"f":35.88,"A":-70.14,"F":-77.12,"I":-96.40},{"f":35.96,"A":-70.67,"F":-73.46,"I":-97.07},{"f":36.04,"A":-71.14,"F":-70.34,"I":-96.73},
{"f":36.12,"A":-70.14,"F":-70.27,"I":-97.07},{"f":36.20,"A":-70.34,"F":-70.47,"I":-96.40},{"f":36.28,"A":-69.94,"F":-70.27,"I":-97.07},{"f":36.36,"A":-69.67,"F":-70.27,"I":-96.73},{"f":36.44,"A":-69.47,"F":-69.94,"I":-97.07},
{"f":36.52,"A":-69.94,"F":-70.27,"I":-96.07},{"f":36.60,"A":-69.47,"F":-69.94,"I":-97.07},{"f":36.68,"A":-70.47,"F":-70.27,"I":-97.40},{"f":36.76,"A":-71.27,"F":-71.27,"I":-97.07},{"f":36.84,"A":-71.14,"F":-71.47,"I":-95.74},
{"f":36.92,"A":-68.14,"F":-70.60,"I":-98.40},{"f":37.00,"A":-70.14,"F":-71.00,"I":-97.07},{"f":37.08,"A":-70.67,"F":-74.99,"I":-97.73},{"f":37.16,"A":-70.01,"F":-77.78,"I":-96.73},{"f":37.24,"A":-68.81,"F":-79.98,"I":-96.40},
{"f":37.32,"A":-69.67,"F":-80.44,"I":-97.20},{"f":37.40,"A":-70.27,"F":-83.77,"I":-96.40},{"f":37.48,"A":-69.94,"F":-87.23,"I":-97.73},{"f":37.56,"A":-69.27,"F":-90.09,"I":-97.07},{"f":37.64,"A":-69.01,"F":-90.62,"I":-96.73},
{"f":37.72,"A":-70.60,"F":-92.74,"I":-96.40},{"f":37.80,"A":-71.47,"F":-93.41,"I":-97.73},{"f":37.88,"A":-72.80,"F":-95.74,"I":-98.40},{"f":37.96,"A":-70.47,"F":-96.40,"I":-100.06},{"f":38.04,"A":-70.27,"F":-95.60,"I":-96.07},
{"f":38.12,"A":-71.14,"F":-94.80,"I":-96.73},{"f":38.20,"A":-70.74,"F":-94.54,"I":-96.93},{"f":38.28,"A":-70.34,"F":-94.07,"I":-97.40},{"f":38.36,"A":-71.14,"F":-92.41,"I":-97.73},{"f":38.44,"A":-72.13,"F":-95.40,"I":-98.40}
     ]},
     "transform":[{"fold":["A","F","I"],"as":["s","y"]}],
     "mark":{"type":"line","strokeWidth":1.2},
     "encoding":{"color":{"field":"s","type":"nominal","scale":{"domain":["A","F","I"],"range":["#0000ff","#ff00ff","#800000"]}}}
    },
    {
     "data":{"values":[{"f":33.816,"y":-97.41,"f2":35.53,"y2":-85.37}]},
     "mark":{"type":"rule","color":"black","strokeWidth":1},
     "encoding":{"x2":{"field":"f2"},"y2":{"field":"y2"}}
    },
    {
     "data":{"values":[{"f":35.53,"y":-85.37}]},
     "mark":{"type":"point","shape":"triangle","filled":true,"color":"black","opacity":1,"size":60,"angle":55.6}
    }
   ]
  }
 ]
}
]
}
